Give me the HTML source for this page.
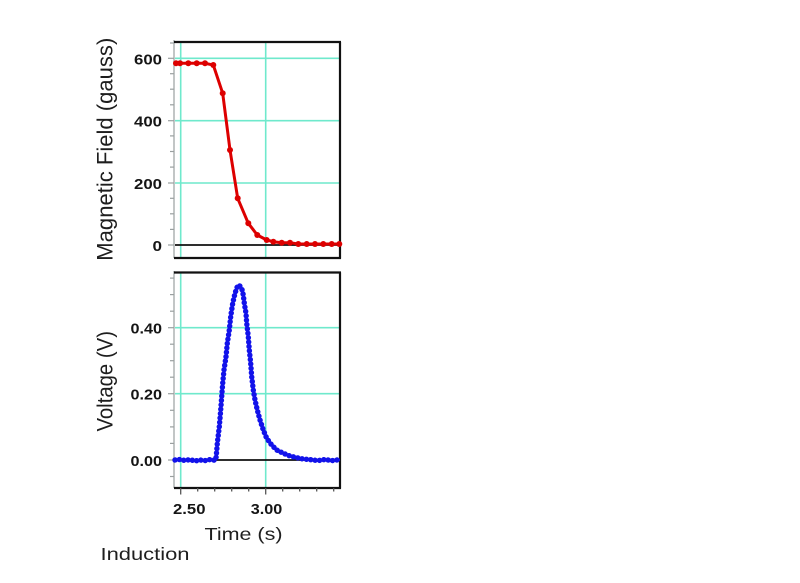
<!DOCTYPE html>
<html><head><meta charset="utf-8"><style>
html,body{margin:0;padding:0;background:#fff;}
svg{display:block;}
text{font-family:"Liberation Sans",Arial,sans-serif;}
</style></head><body>
<svg width="800" height="583" viewBox="0 0 800 583" xmlns="http://www.w3.org/2000/svg">
<rect width="800" height="583" fill="#fff"/>

<!-- ===== TOP PANEL ===== -->
<g stroke="#6fe9cc" stroke-width="1.6" fill="none">
  <line x1="180.7" y1="42" x2="180.7" y2="258"/>
  <line x1="265.7" y1="42" x2="265.7" y2="258"/>
  <line x1="175" y1="58.3" x2="340" y2="58.3"/>
  <line x1="175" y1="120.7" x2="340" y2="120.7"/>
  <line x1="175" y1="183" x2="340" y2="183"/>
</g>
<line x1="175" y1="245" x2="340" y2="245" stroke="#111" stroke-width="1.8"/>
<line x1="174" y1="40" x2="174" y2="258" stroke="#aeb4b4" stroke-width="1.5"/>
<g stroke="#9aa0a0" stroke-width="1.2">
  <line x1="168" y1="245" x2="174" y2="245"/>
  <line x1="170" y1="229.4" x2="174" y2="229.4"/>
  <line x1="170" y1="213.8" x2="174" y2="213.8"/>
  <line x1="170" y1="198.3" x2="174" y2="198.3"/>
  <line x1="168" y1="183" x2="174" y2="183"/>
  <line x1="170" y1="167.1" x2="174" y2="167.1"/>
  <line x1="170" y1="151.5" x2="174" y2="151.5"/>
  <line x1="170" y1="135.9" x2="174" y2="135.9"/>
  <line x1="168" y1="120.7" x2="174" y2="120.7"/>
  <line x1="170" y1="104.8" x2="174" y2="104.8"/>
  <line x1="170" y1="89.2" x2="174" y2="89.2"/>
  <line x1="170" y1="73.7" x2="174" y2="73.7"/>
  <line x1="168" y1="58.3" x2="174" y2="58.3"/>
  <line x1="170" y1="43" x2="174" y2="43"/>
</g>
<g stroke="#111" stroke-width="2.2" fill="none">
  <line x1="174" y1="42" x2="341" y2="42"/>
  <line x1="340" y1="42" x2="340" y2="258.5"/>
  <line x1="174" y1="258" x2="341" y2="258"/>
</g>
<!-- red series -->
<polyline fill="none" stroke="#dd0000" stroke-width="3" stroke-linejoin="round"
 points="175.5,63.3 180,63.3 188.3,63.3 196.7,63.3 205,63.3 213.3,65 222.7,93.3 230,150 237.7,198.3 248.3,223.3 257.3,235 266.7,240 273.3,241.7 281.7,242.7 290,242.7 298.3,244 306.7,244 315,244 323.3,244 331.7,244 340,244"/>
<g fill="#dd0000">
  <circle cx="176" cy="63.3" r="3"/><circle cx="180" cy="63.3" r="3"/>
  <circle cx="188.3" cy="63.3" r="3"/><circle cx="196.7" cy="63.3" r="3"/>
  <circle cx="205" cy="63.3" r="3"/><circle cx="213.3" cy="65" r="3"/>
  <circle cx="222.7" cy="93.3" r="3"/><circle cx="230" cy="150" r="3"/>
  <circle cx="237.7" cy="198.3" r="3"/><circle cx="248.3" cy="223.3" r="3"/>
  <circle cx="257.3" cy="235" r="3"/><circle cx="266.7" cy="240" r="3"/>
  <circle cx="273.3" cy="241.7" r="3"/><circle cx="281.7" cy="242.7" r="3"/>
  <circle cx="290" cy="242.7" r="3"/><circle cx="298.3" cy="244" r="3"/>
  <circle cx="306.7" cy="244" r="3"/><circle cx="315" cy="244" r="3"/>
  <circle cx="323.3" cy="244" r="3"/><circle cx="331.7" cy="244" r="3"/>
  <circle cx="339.3" cy="244" r="3"/>
</g>

<!-- ===== BOTTOM PANEL ===== -->
<g stroke="#6fe9cc" stroke-width="1.6" fill="none">
  <line x1="180.7" y1="272.5" x2="180.7" y2="488"/>
  <line x1="265.7" y1="272.5" x2="265.7" y2="488"/>
  <line x1="175" y1="327.7" x2="340" y2="327.7"/>
  <line x1="175" y1="393.7" x2="340" y2="393.7"/>
</g>
<line x1="175" y1="460" x2="340" y2="460" stroke="#111" stroke-width="1.8"/>
<line x1="174" y1="271" x2="174" y2="488" stroke="#aeb4b4" stroke-width="1.5"/>
<g stroke="#9aa0a0" stroke-width="1.2">
  <line x1="170" y1="476.5" x2="174" y2="476.5"/>
  <line x1="168" y1="460" x2="174" y2="460"/>
  <line x1="170" y1="443.4" x2="174" y2="443.4"/>
  <line x1="170" y1="426.9" x2="174" y2="426.9"/>
  <line x1="170" y1="410.3" x2="174" y2="410.3"/>
  <line x1="168" y1="393.7" x2="174" y2="393.7"/>
  <line x1="170" y1="377.2" x2="174" y2="377.2"/>
  <line x1="170" y1="360.7" x2="174" y2="360.7"/>
  <line x1="170" y1="344.2" x2="174" y2="344.2"/>
  <line x1="168" y1="327.7" x2="174" y2="327.7"/>
  <line x1="170" y1="311.2" x2="174" y2="311.2"/>
  <line x1="170" y1="294.6" x2="174" y2="294.6"/>
  <line x1="170" y1="278.1" x2="174" y2="278.1"/>
</g>
<g stroke="#111" stroke-width="2.2" fill="none">
  <line x1="174" y1="272.5" x2="341" y2="272.5"/>
  <line x1="340" y1="272.5" x2="340" y2="488.5"/>
  <line x1="174" y1="488" x2="341" y2="488"/>
</g>
<g stroke="#555" stroke-width="1.3">
  <line x1="180.7" y1="488" x2="180.7" y2="494.5"/>
  <line x1="265.7" y1="488" x2="265.7" y2="494.5"/>
  <line x1="197.7" y1="488" x2="197.7" y2="491.5"/>
  <line x1="214.7" y1="488" x2="214.7" y2="491.5"/>
  <line x1="231.7" y1="488" x2="231.7" y2="491.5"/>
  <line x1="248.7" y1="488" x2="248.7" y2="491.5"/>
  <line x1="282.7" y1="488" x2="282.7" y2="491.5"/>
  <line x1="299.7" y1="488" x2="299.7" y2="491.5"/>
  <line x1="316.7" y1="488" x2="316.7" y2="491.5"/>
  <line x1="333.7" y1="488" x2="333.7" y2="491.5"/>
</g>
<!-- blue series -->
<g fill="none" stroke="#1212ea" stroke-linejoin="round">
<polyline stroke-width="2" points="175,460 180,459.5 185,460.5 190,459.6 195,461 200,460 205,460.6 210,459.6 215.3,460.3 216,458.3 216.6,452 217.3,443.3 219.3,426.7 220.7,410 221.7,396.7 222.7,383.3 224,370 226,356.7 227.3,343.3 229.3,330 230.7,316.7 232.7,303.3 235,293.3 237.3,286.7 239,285 241.7,288.3 243.3,295 244.3,303.3 246,313.3 246.7,323.3 248.3,336.7 249.3,350 250.7,363.3 251.7,376.7 253.3,390 255,400 257.3,410 260,420 263.3,430 266.7,438.3 271.7,445 276.7,450 283.3,453.3 290,456 296.7,457.7 303,459 310,459.6 318,460.6 325,459.5 332,460.6 340,459.6"/>
<polyline stroke-width="5.4" stroke-linecap="round" stroke-dasharray="0.1 4.3" points="175,460 180,459.5 185,460.5 190,459.6 195,461 200,460 205,460.6 210,459.6 215.3,460.3 216,458.3 216.6,452 217.3,443.3 219.3,426.7 220.7,410 221.7,396.7 222.7,383.3 224,370 226,356.7 227.3,343.3 229.3,330 230.7,316.7 232.7,303.3 235,293.3 237.3,286.7 239,285 241.7,288.3 243.3,295 244.3,303.3 246,313.3 246.7,323.3 248.3,336.7 249.3,350 250.7,363.3 251.7,376.7 253.3,390 255,400 257.3,410 260,420 263.3,430 266.7,438.3 271.7,445 276.7,450 283.3,453.3 290,456 296.7,457.7 303,459 310,459.6 318,460.6 325,459.5 332,460.6 340,459.6"/>
</g>

<!-- ===== TEXT ===== -->
<g font-weight="bold" font-size="15" fill="#151515" text-anchor="end">
  <text x="162" y="64.3" textLength="28" lengthAdjust="spacingAndGlyphs">600</text>
  <text x="162" y="126.7" textLength="28" lengthAdjust="spacingAndGlyphs">400</text>
  <text x="162" y="189" textLength="28" lengthAdjust="spacingAndGlyphs">200</text>
  <text x="162" y="251" textLength="9.5" lengthAdjust="spacingAndGlyphs">0</text>
  <text x="162" y="333.7" textLength="31.5" lengthAdjust="spacingAndGlyphs">0.40</text>
  <text x="162" y="399.7" textLength="31.5" lengthAdjust="spacingAndGlyphs">0.20</text>
  <text x="162" y="466" textLength="31.5" lengthAdjust="spacingAndGlyphs">0.00</text>
</g>
<g font-weight="bold" font-size="15" fill="#151515">
  <text x="173" y="514" textLength="32.5" lengthAdjust="spacingAndGlyphs">2.50</text>
  <text x="266.5" y="514" text-anchor="middle" textLength="31.5" lengthAdjust="spacingAndGlyphs">3.00</text>
</g>
<g fill="#1e1e1e">
  <text x="204.5" y="540" font-size="17.7" textLength="78" lengthAdjust="spacingAndGlyphs">Time (s)</text>
  <text x="100.5" y="560" font-size="17.7" textLength="89" lengthAdjust="spacingAndGlyphs">Induction</text>
  <text transform="translate(112.5,149.2) scale(1.18,1) rotate(-90)" font-size="19" text-anchor="middle" textLength="223" lengthAdjust="spacingAndGlyphs">Magnetic Field (gauss)</text>
  <text transform="translate(112.5,381.3) scale(1.18,1) rotate(-90)" font-size="19" text-anchor="middle" textLength="100.5" lengthAdjust="spacingAndGlyphs">Voltage (V)</text>
</g>
</svg>
</body></html>
